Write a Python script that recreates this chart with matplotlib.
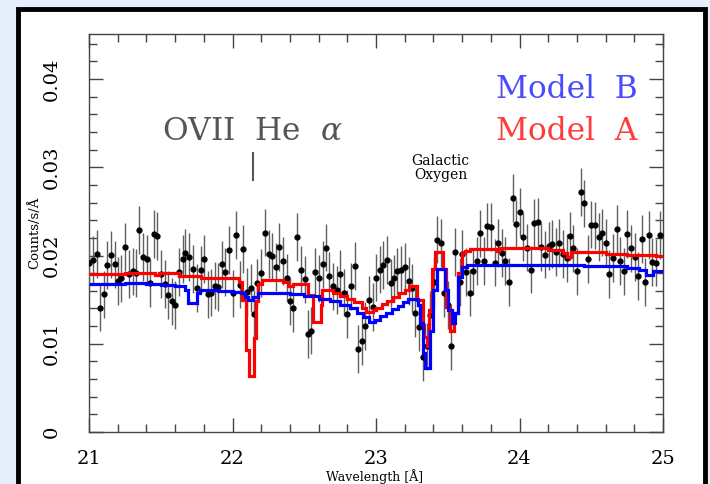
import matplotlib
matplotlib.use('Agg')
import matplotlib.pyplot as plt
from matplotlib.patches import Rectangle
from matplotlib.ticker import MultipleLocator
import numpy as np

plt.rcParams['mathtext.fontset'] = 'dejavuserif'

# data points (wavelength in Angstrom, counts/s/A)
wave = [21.002, 21.030, 21.053, 21.077, 21.105, 21.128, 21.151, 21.179, 21.202, 21.225,
        21.253, 21.276, 21.304, 21.328, 21.351, 21.374, 21.402, 21.425, 21.453, 21.476,
        21.504, 21.527, 21.551, 21.578, 21.602, 21.625, 21.653, 21.671,
        21.699, 21.727, 21.750, 21.778, 21.801, 21.829, 21.852, 21.876, 21.899, 21.927,
        21.950, 21.978, 22.001, 22.024, 22.052, 22.075, 22.103, 22.127, 22.150, 22.173,
        22.201, 22.224, 22.252, 22.275, 22.303, 22.326,
        22.350, 22.377, 22.401, 22.424, 22.452, 22.475, 22.503, 22.526, 22.549, 22.577,
        22.600, 22.628, 22.652, 22.675, 22.698, 22.726, 22.749, 22.777, 22.800, 22.828,
        22.851, 22.875, 22.902, 22.926, 22.954, 22.977, 23.000,
        23.028, 23.051, 23.075, 23.102, 23.125, 23.148, 23.172, 23.199, 23.228, 23.251,
        23.274, 23.302, 23.330, 23.353, 23.376, 23.401, 23.427, 23.451, 23.474, 23.502,
        23.526, 23.553, 23.582, 23.601, 23.627, 23.653, 23.678, 23.702, 23.725, 23.753,
        23.776, 23.804, 23.827, 23.850, 23.878, 23.901, 23.929, 23.953, 23.976, 24.003,
        24.026, 24.050, 24.078, 24.101, 24.129, 24.152, 24.180, 24.203, 24.226, 24.254,
        24.277, 24.301, 24.329, 24.352, 24.375, 24.403, 24.426, 24.449, 24.477, 24.500,
        24.524, 24.552, 24.574, 24.602, 24.626, 24.649, 24.677, 24.700, 24.728, 24.751,
        24.775, 24.803, 24.825, 24.853, 24.877, 24.900, 24.923, 24.951, 24.979]
rate = [0.0191, 0.0195, 0.0202, 0.0141, 0.0156, 0.0189, 0.0201, 0.0190, 0.0171, 0.0174,
        0.0210, 0.0179, 0.0182, 0.0180, 0.0229, 0.0198, 0.0196, 0.0169, 0.0224, 0.0222,
        0.0179, 0.0168, 0.0155, 0.0148, 0.0144, 0.0181, 0.0196, 0.0203,
        0.0198, 0.0185, 0.0163, 0.0184, 0.0196, 0.0156, 0.0158, 0.0166, 0.0164, 0.0190,
        0.0181, 0.0206, 0.0157, 0.0223, 0.0167, 0.0207, 0.0159, 0.0163, 0.0134, 0.0169,
        0.0180, 0.0226, 0.0202, 0.0199, 0.0187, 0.0210,
        0.0194, 0.0175, 0.0148, 0.0140, 0.0221, 0.0184, 0.0173, 0.0111, 0.0115, 0.0181,
        0.0174, 0.0190, 0.0209, 0.0177, 0.0165, 0.0161, 0.0179, 0.0158, 0.0134, 0.0165,
        0.0188, 0.0094, 0.0103, 0.0120, 0.0150, 0.0142, 0.0175,
        0.0184, 0.0189, 0.0195, 0.0169, 0.0174, 0.0182, 0.0184, 0.0187, 0.0171, 0.0163,
        0.0135, 0.0119, 0.0085, 0.0097, 0.0133, 0.0170, 0.0218, 0.0214, 0.0157, 0.0144,
        0.0097, 0.0204, 0.0170, 0.0202, 0.0181, 0.0158, 0.0182, 0.0194, 0.0225, 0.0194,
        0.0233, 0.0232, 0.0192, 0.0214, 0.0203, 0.0194, 0.0170, 0.0265, 0.0236, 0.0249,
        0.0221, 0.0209, 0.0184, 0.0237, 0.0238, 0.0210, 0.0201, 0.0211, 0.0213, 0.0204,
        0.0214, 0.0202, 0.0197, 0.0222, 0.0208, 0.0182, 0.0272, 0.0259, 0.0196, 0.0235,
        0.0234, 0.0221, 0.0226, 0.0214, 0.0179, 0.0197, 0.0230, 0.0194, 0.0182, 0.0224,
        0.0208, 0.0198, 0.0177, 0.0219, 0.0170, 0.0223, 0.0193, 0.0192, 0.0223]
rate_err = 0.0027

# Model A (red) step edges / levels
edges_a = [21.00, 21.25, 21.46, 21.49, 21.63, 21.78, 21.92, 22.045, 22.064, 22.092,
           22.115, 22.150, 22.164, 22.176, 22.203, 22.35, 22.385, 22.42, 22.526, 22.561,
           22.617, 22.625, 22.70, 22.75, 22.80, 22.85, 22.90, 22.93, 22.98, 23.00,
           23.04, 23.08, 23.12, 23.16, 23.20, 23.23, 23.286, 23.325, 23.334, 23.355,
           23.371, 23.388, 23.411, 23.469, 23.488, 23.516, 23.544, 23.574, 23.597, 23.620,
           23.655, 23.84, 23.86, 24.20, 24.30, 24.33, 24.36, 24.60, 24.75, 24.95, 25.00]
model_a = [0.0179, 0.0180, 0.0178, 0.0180, 0.0177, 0.0175, 0.0174, 0.0170, 0.0150, 0.0093,
           0.0063, 0.0106, 0.0148, 0.0168, 0.0172, 0.0170, 0.0165, 0.0168, 0.0155, 0.0125,
           0.0144, 0.0161, 0.0158, 0.0154, 0.0151, 0.0147, 0.0141, 0.0136, 0.0138, 0.0141,
           0.0145, 0.0149, 0.0153, 0.0157, 0.0161, 0.0165, 0.0150, 0.0121, 0.0108, 0.0097,
           0.0138, 0.0185, 0.0204, 0.0185, 0.0142, 0.0114, 0.0135, 0.0180, 0.0203, 0.0205,
           0.0207, 0.0205, 0.0208, 0.0206, 0.0203, 0.0198, 0.0204, 0.0202, 0.0201, 0.0199]

# Model B (blue)
edges_b = [21.00, 21.25, 21.40, 21.50, 21.60, 21.669, 21.690, 21.752, 21.774, 21.90,
           22.00, 22.06, 22.087, 22.108, 22.143, 22.178, 22.20, 22.40, 22.50, 22.60,
           22.68, 22.75, 22.82, 22.87, 22.91, 22.95, 22.99, 23.03, 23.07, 23.11,
           23.15, 23.19, 23.22, 23.295, 23.307, 23.325, 23.341, 23.376, 23.399, 23.423,
           23.481, 23.504, 23.528, 23.551, 23.574, 23.597, 23.632, 24.45, 24.75, 24.83,
           24.88, 24.93, 25.00]
model_b = [0.0168, 0.0169, 0.0168, 0.0167, 0.0165, 0.0161, 0.0146, 0.0158, 0.0161, 0.0160,
           0.0159, 0.0157, 0.0153, 0.0150, 0.0153, 0.0157, 0.0158, 0.0156, 0.0154, 0.0151,
           0.0148, 0.0144, 0.0140, 0.0135, 0.0130, 0.0125, 0.0127, 0.0131, 0.0135, 0.0139,
           0.0143, 0.0147, 0.0151, 0.0144, 0.0123, 0.0089, 0.0072, 0.0114, 0.0161, 0.0185,
           0.0161, 0.0138, 0.0123, 0.0135, 0.0176, 0.0187, 0.0189, 0.0188, 0.0186, 0.0184,
           0.0178, 0.0182]

W, H = 710, 484
fig = plt.figure(figsize=(W / 100, H / 100), dpi=100)
fig.patch.set_facecolor('#e6eefc')
frame = Rectangle((17.5 / W, -0.05), 687 / W, 1.05 - 9 / H,
                  transform=fig.transFigure, facecolor='white',
                  edgecolor='black', linewidth=3.5, zorder=-5)
fig.patches.append(frame)

ax = fig.add_axes([89 / W, 52 / H, 574 / W, 398 / H])
ax.set_zorder(2)
ax.set_xlim(21, 25)
ax.set_ylim(0, 0.0451)

ax.errorbar(wave, rate, yerr=rate_err, fmt='o', color='black', ms=3.5,
            ecolor='#606060', elinewidth=1, capsize=0, zorder=3)
ax.stairs(model_a, edges_a, baseline=None, color='#ff0000', lw=2.3, zorder=4)
ax.stairs(model_b, edges_b, baseline=None, color='#0000ff', lw=2.3, zorder=5)

ser = 'DejaVu Serif'
ax.text(22.14, 0.0340, r'OVII  He  $\alpha$', ha='center', va='center', fontsize=22.5,
        color='#555555', family=ser)
ax.plot([22.14, 22.14], [0.0286, 0.0316], color='#555555', lw=1.5)
ax.text(23.45, 0.0299, 'Galactic\nOxygen', ha='center', va='center', fontsize=10,
        family=ser, linespacing=1.0)
ax.text(24.82, 0.0388, 'Model  B', ha='right', va='center', fontsize=22.5, color='#4a4aff',
        family=ser)
ax.text(24.82, 0.0340, 'Model  A', ha='right', va='center', fontsize=22.5, color='#ff3b3b',
        family=ser)

ax.xaxis.set_major_locator(MultipleLocator(1))
ax.xaxis.set_minor_locator(MultipleLocator(0.2))
ax.yaxis.set_major_locator(MultipleLocator(0.01))
ax.yaxis.set_minor_locator(MultipleLocator(0.002))
ax.tick_params(which='both', direction='in', top=True, right=True, color='#444444')
ax.tick_params(which='major', length=10, width=1)
ax.tick_params(which='minor', length=6, width=1)
ax.tick_params(axis='x', pad=13, labelsize=14)
ax.tick_params(axis='y', pad=20, labelsize=14)
ax.set_yticks([0, 0.01, 0.02, 0.03, 0.04])
ax.set_yticklabels(['0', '0.01', '0.02', '0.03', '0.04'], rotation=90, va='center',
                   family=ser)
ax.set_xticks([21, 22, 23, 24, 25])
ax.set_xticklabels(['21', '22', '23', '24', '25'], family=ser)
for s in ax.spines.values():
    s.set_color('#444444')
    s.set_linewidth(1)

fig.text(35 / W, 1 - 233 / H, 'Counts/s/Å', rotation=90, ha='center', va='center',
         fontsize=9.5, family=ser)
fig.text(375 / W, 1 - 477 / H, 'Wavelength [Å]', ha='center', va='center',
         fontsize=9, family=ser)

fig.savefig('out.png', dpi=100, facecolor=fig.get_facecolor())
